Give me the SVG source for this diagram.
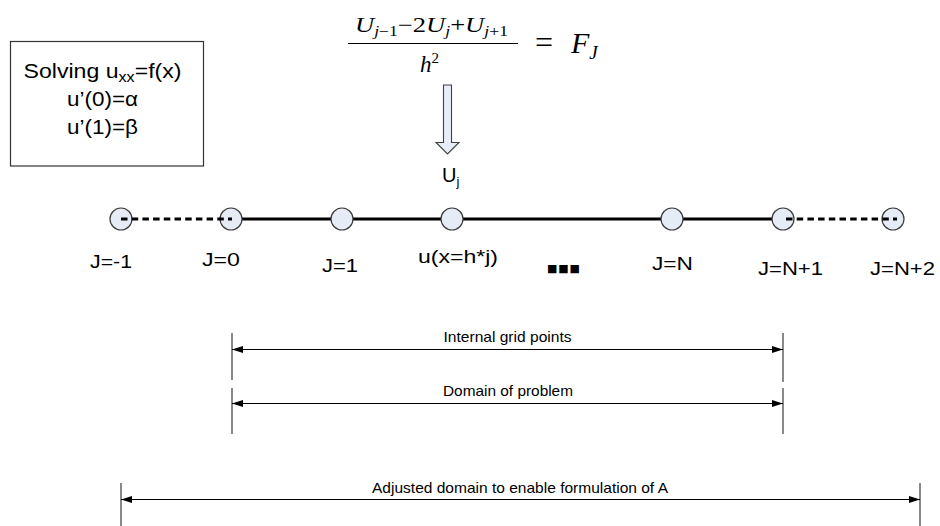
<svg xmlns="http://www.w3.org/2000/svg" width="940" height="526" viewBox="0 0 940 526">
  <style>
    .sans { font-family: "Liberation Sans", Arial, sans-serif; fill: #000; }
    .serif { font-family: "Liberation Serif", "Times New Roman", serif; fill: #000; }
    .it { font-style: italic; }
    .node { fill: #E6ECF5; stroke: #3a3a3a; stroke-width: 1.2; }
    .lbl { font-size: 18px; }
    .tick { stroke: #4a4a4a; stroke-width: 1.3; }
    .dim { stroke: #000; stroke-width: 1.2; fill: none; marker-start: url(#ah); marker-end: url(#ah); }
    .dimtxt { font-size: 15px; }
  </style>
  <defs>
    <marker id="ah" markerWidth="11" markerHeight="7" refX="11" refY="3.5" orient="auto-start-reverse" markerUnits="userSpaceOnUse">
      <path d="M0,0 L11,3.5 L0,7 z" fill="#000"/>
    </marker>
  </defs>

  <rect width="940" height="526" fill="#fff"/>

  <!-- problem statement box -->
  <g id="problem-box">
    <rect x="10.5" y="41.5" width="193" height="124.5" fill="#fff" stroke="#333" stroke-width="1.2"/>
    <text class="sans" x="23.5" y="78" font-size="20" textLength="158" lengthAdjust="spacingAndGlyphs">Solving u<tspan font-size="14" dy="4">xx</tspan><tspan dy="-4">=f(x)</tspan></text>
    <text class="sans" x="67" y="106" font-size="20" textLength="71" lengthAdjust="spacingAndGlyphs">u’(0)=α</text>
    <text class="sans" x="67" y="134" font-size="20" textLength="71" lengthAdjust="spacingAndGlyphs">u’(1)=β</text>
  </g>

  <!-- finite difference equation -->
  <g id="equation">
    <text class="serif" x="355" y="32" font-size="21" textLength="153" lengthAdjust="spacingAndGlyphs"><tspan class="it">U</tspan><tspan font-size="14" dy="4"><tspan class="it">j</tspan>−1</tspan><tspan dy="-4">−2</tspan><tspan class="it">U</tspan><tspan class="it" font-size="14" dy="4">j</tspan><tspan dy="-4">+</tspan><tspan class="it">U</tspan><tspan font-size="14" dy="4"><tspan class="it">j</tspan>+1</tspan></text>
    <line x1="348" y1="43.5" x2="518" y2="43.5" stroke="#000" stroke-width="1.2"/>
    <text class="serif" x="420" y="72" font-size="23"><tspan class="it">h</tspan><tspan font-size="15" dy="-9">2</tspan></text>
    <text class="serif" x="535" y="53" font-size="32">=</text>
    <text class="serif it" x="571" y="53" font-size="30">F<tspan font-size="19" dy="6">J</tspan></text>
  </g>

  <!-- block arrow from equation down to the unknowns -->
  <g id="solve-arrow">
    <path d="M443.5,85 H451.5 V142.5 H459 L447.5,154 L436,142.5 H443.5 Z" fill="#E8EEF8" stroke="#404040" stroke-width="1.1"/>
    <text class="sans" x="442" y="182" font-size="20">U<tspan font-size="13" dy="4">j</tspan></text>
  </g>

  <!-- grid line connectors -->
  <g id="connectors">
    <line x1="231" y1="219" x2="782" y2="219" stroke="#000" stroke-width="3"/>
  </g>

  <!-- grid nodes -->
  <g id="node-m1">
    <circle class="node" cx="121" cy="219" r="11"/>
    <text class="sans lbl" x="90" y="268" textLength="42" lengthAdjust="spacingAndGlyphs">J=-1</text>
  </g>
  <g id="node-0">
    <circle class="node" cx="231" cy="219" r="11"/>
    <text class="sans lbl" x="202" y="266" textLength="38" lengthAdjust="spacingAndGlyphs">J=0</text>
  </g>
  <g id="node-1">
    <circle class="node" cx="342" cy="219" r="11"/>
    <text class="sans lbl" x="322" y="272" textLength="36" lengthAdjust="spacingAndGlyphs">J=1</text>
  </g>
  <g id="node-j">
    <circle class="node" cx="452" cy="219" r="11"/>
    <text class="sans lbl" x="418" y="263" textLength="80" lengthAdjust="spacingAndGlyphs">u(x=h*j)</text>
  </g>
  <g id="ellipsis">
    <text x="547" y="272" font-family="DejaVu Sans, sans-serif" font-size="11" textLength="33" lengthAdjust="spacing">■■■</text>
  </g>
  <g id="node-N">
    <circle class="node" cx="672" cy="219" r="11"/>
    <text class="sans lbl" x="652" y="270" textLength="41" lengthAdjust="spacingAndGlyphs">J=N</text>
  </g>
  <g id="node-N1">
    <circle class="node" cx="783" cy="219" r="11"/>
    <text class="sans lbl" x="758" y="275" textLength="65" lengthAdjust="spacingAndGlyphs">J=N+1</text>
  </g>
  <g id="node-N2">
    <circle class="node" cx="893" cy="219" r="11"/>
    <text class="sans lbl" x="870" y="275" textLength="65" lengthAdjust="spacingAndGlyphs">J=N+2</text>
  </g>

  <!-- ghost-point connectors drawn over the nodes -->
  <g id="ghost-connectors" stroke="#000" stroke-width="3" stroke-dasharray="6.5,4.2">
    <line x1="121" y1="219" x2="232" y2="219"/>
    <line x1="786" y1="219" x2="897" y2="219"/>
  </g>

  <!-- dimension: internal grid points -->
  <g id="dim-internal">
    <line class="tick" x1="232" y1="333" x2="232" y2="380"/>
    <line class="tick" x1="783" y1="333" x2="783" y2="382"/>
    <line class="dim" x1="232" y1="349.5" x2="783" y2="349.5"/>
    <text class="sans dimtxt" x="507.5" y="342" text-anchor="middle" textLength="128" lengthAdjust="spacingAndGlyphs">Internal grid points</text>
  </g>

  <!-- dimension: domain of problem -->
  <g id="dim-domain">
    <line class="tick" x1="232" y1="388" x2="232" y2="434"/>
    <line class="tick" x1="783" y1="388" x2="783" y2="434"/>
    <line class="dim" x1="232" y1="403.5" x2="783" y2="403.5"/>
    <text class="sans dimtxt" x="508" y="396" text-anchor="middle" textLength="130" lengthAdjust="spacingAndGlyphs">Domain of problem</text>
  </g>

  <!-- dimension: adjusted domain -->
  <g id="dim-adjusted">
    <line class="tick" x1="121" y1="483" x2="121" y2="526"/>
    <line class="tick" x1="920" y1="483" x2="920" y2="526"/>
    <line class="dim" x1="121" y1="499.5" x2="920" y2="499.5"/>
    <text class="sans dimtxt" x="520" y="493" text-anchor="middle" textLength="296" lengthAdjust="spacingAndGlyphs">Adjusted domain to enable formulation of A</text>
  </g>
</svg>
